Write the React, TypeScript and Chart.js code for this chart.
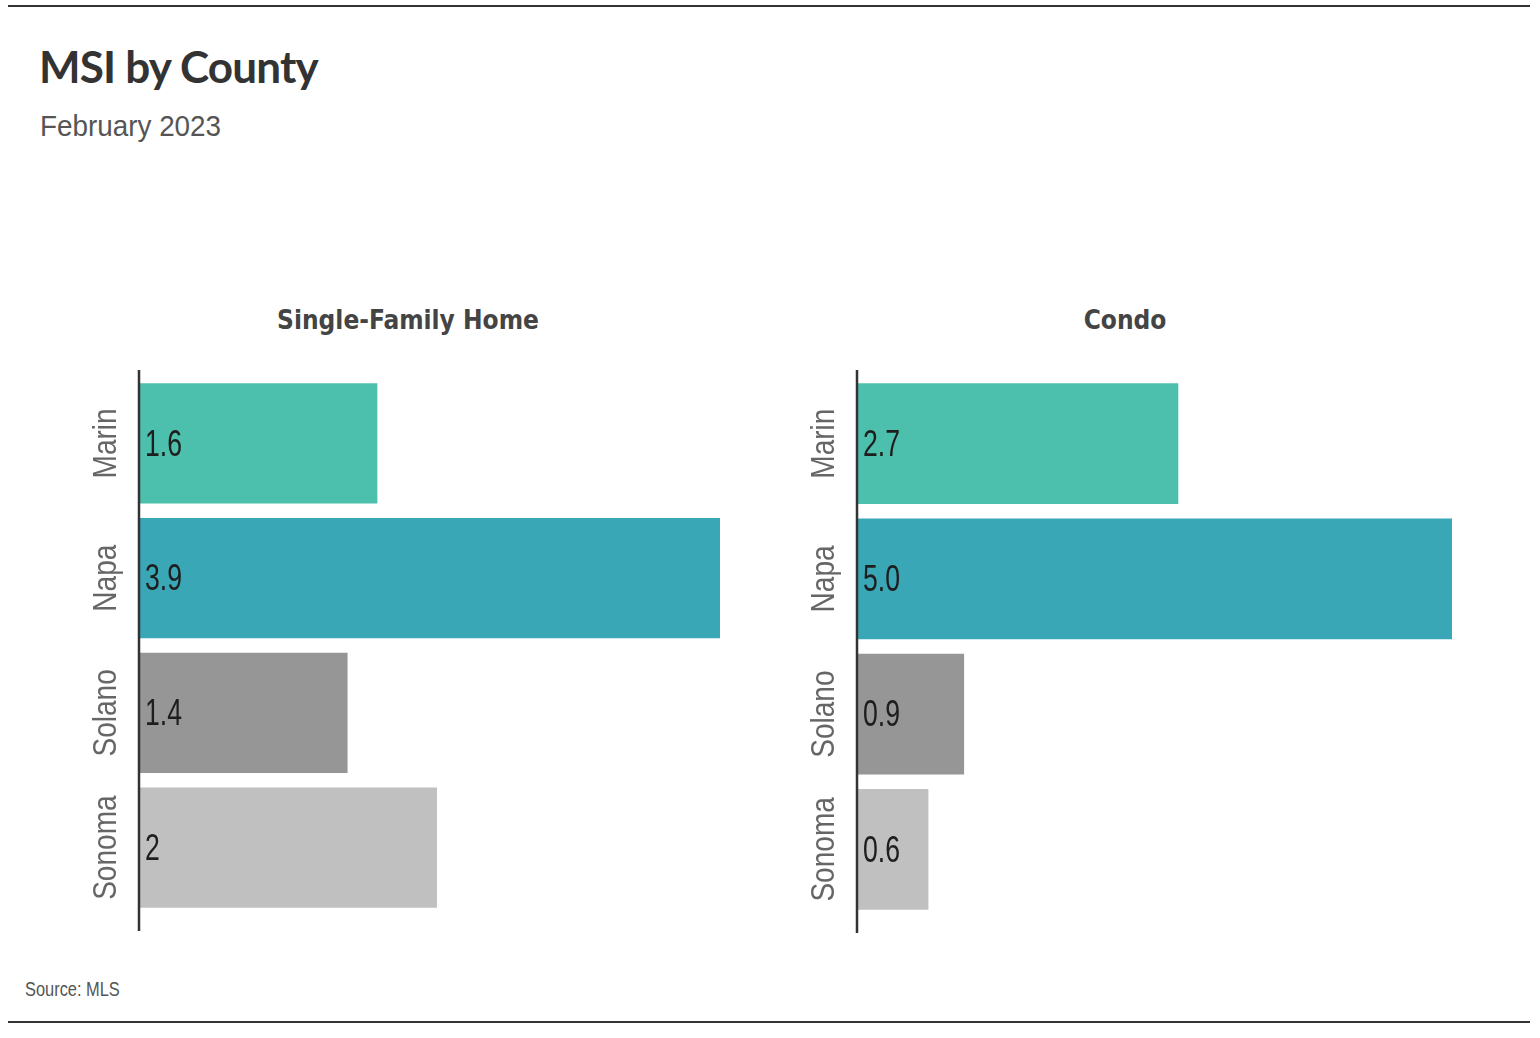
import React, { useEffect, useRef } from "react";
import { Chart, registerables } from "chart.js";

Chart.register(...registerables);

const counties = ["Marin", "Napa", "Solano", "Sonoma"];
const sfhValues = [1.6, 3.9, 1.4, 2];
const sfhLabels = ["1.6", "3.9", "1.4", "2"];
const condoValues = [2.7, 5.0, 0.9, 0.6];
const condoLabels = ["2.7", "5.0", "0.9", "0.6"];
const barColors = ["#4DBFAD", "#3AA7B7", "#969696", "#C0C0C0"];

const NARROW = '"DejaVu Sans Condensed", sans-serif';
const LIB = '"Liberation Sans", Arial, sans-serif';
const SANS = '"Lato", "Open Sans", sans-serif';

function makePlugin(labels: string[]) {
  return {
    id: "panelDecor",
    afterDraw(chart: any) {
      const ctx = chart.ctx;
      const { left, top, bottom } = chart.chartArea;
      const yScale = chart.scales.y;
      const meta = chart.getDatasetMeta(0);
      ctx.save();
      // axis line
      ctx.strokeStyle = "#333333";
      ctx.lineWidth = 2.5;
      ctx.beginPath();
      ctx.moveTo(left, top - 6);
      ctx.lineTo(left, bottom + 16);
      ctx.stroke();
      // category labels, rotated
      ctx.fillStyle = "#666666";
      ctx.font = `33px ${LIB}`;
      ctx.textAlign = "center";
      ctx.textBaseline = "middle";
      counties.forEach((c, i) => {
        const y = yScale.getPixelForTick(i);
        ctx.save();
        ctx.translate(left - 32, y);
        ctx.rotate(-Math.PI / 2);
        ctx.scale(0.85, 1);
        ctx.fillText(c, 0, 0);
        ctx.restore();
      });
      // data labels
      ctx.fillStyle = "#1e1e1e";
      ctx.font = `37px ${LIB}`;
      ctx.textAlign = "left";
      ctx.textBaseline = "middle";
      meta.data.forEach((bar: any, i: number) => {
        ctx.save();
        ctx.translate(left + 6, bar.y + 2);
        ctx.scale(0.72, 1);
        ctx.fillText(labels[i], 0, 0);
        ctx.restore();
      });
      ctx.restore();
    },
  };
}

function Panel({ values, labels, padBottom, w, h }: { values: number[]; labels: string[]; padBottom: number; w: number; h: number }) {
  const ref = useRef<HTMLCanvasElement | null>(null);
  useEffect(() => {
    if (!ref.current) return;
    const chart = new Chart(ref.current, {
      type: "bar",
      data: {
        labels: counties,
        datasets: [
          {
            data: values,
            backgroundColor: barColors,
            borderWidth: 0,
            barPercentage: 0.894,
            categoryPercentage: 1,
          },
        ],
      },
      options: {
        indexAxis: "y",
        animation: false,
        responsive: false,
        maintainAspectRatio: false,
        layout: { padding: { left: 79, right: 20, top: 16, bottom: padBottom } },
        plugins: { legend: { display: false }, tooltip: { enabled: false }, title: { display: false } },
        scales: {
          x: { display: false, min: 0, max: Math.max(...values) },
          y: { display: false, offset: true },
        },
      },
      plugins: [makePlugin(labels)],
    });
    return () => chart.destroy();
  }, []);
  return <canvas ref={ref} width={w} height={h} style={{ width: w, height: h, display: "block" }} />;
}

export default function App() {
  return (
    <div style={{ position: "absolute", left: 0, top: 0, width: 1540, height: 1038, background: "#fff", overflow: "hidden" }}>
      <div style={{ position: "absolute", left: 8, top: 5, width: 1522, height: 2, background: "#333" }} />
      <div style={{ position: "absolute", left: 8, top: 1021, width: 1522, height: 2, background: "#333" }} />
      <div style={{ position: "absolute", left: 39, top: 40, font: `bold 44px ${SANS}`, color: "#333", letterSpacing: -0.8, whiteSpace: "nowrap" }}>
        MSI by County
      </div>
      <div style={{ position: "absolute", left: 40, top: 110, font: `29px ${LIB}`, color: "#555", whiteSpace: "nowrap", transform: "scaleX(0.96)", transformOrigin: "left top" }}>
        February 2023
      </div>
      <div style={{ position: "absolute", left: 108, width: 600, top: 305, textAlign: "center", font: `bold 26px ${NARROW}`, color: "#444", whiteSpace: "nowrap" }}>
        Single-Family Home
      </div>
      <div style={{ position: "absolute", left: 825, width: 600, top: 305, textAlign: "center", font: `bold 26px ${NARROW}`, color: "#444", whiteSpace: "nowrap" }}>
        Condo
      </div>
      <div style={{ position: "absolute", left: 60, top: 360, width: 680, height: 590 }}>
        <Panel values={sfhValues} labels={sfhLabels} padBottom={35} w={680} h={590} />
      </div>
      <div style={{ position: "absolute", left: 778, top: 360, width: 694, height: 590 }}>
        <Panel values={condoValues} labels={condoLabels} padBottom={33} w={694} h={590} />
      </div>
      <div style={{ position: "absolute", left: 25, top: 978, font: `20px ${LIB}`, color: "#555", whiteSpace: "nowrap", transform: "scaleX(0.82)", transformOrigin: "left top" }}>
        Source: MLS
      </div>
    </div>
  );
}
